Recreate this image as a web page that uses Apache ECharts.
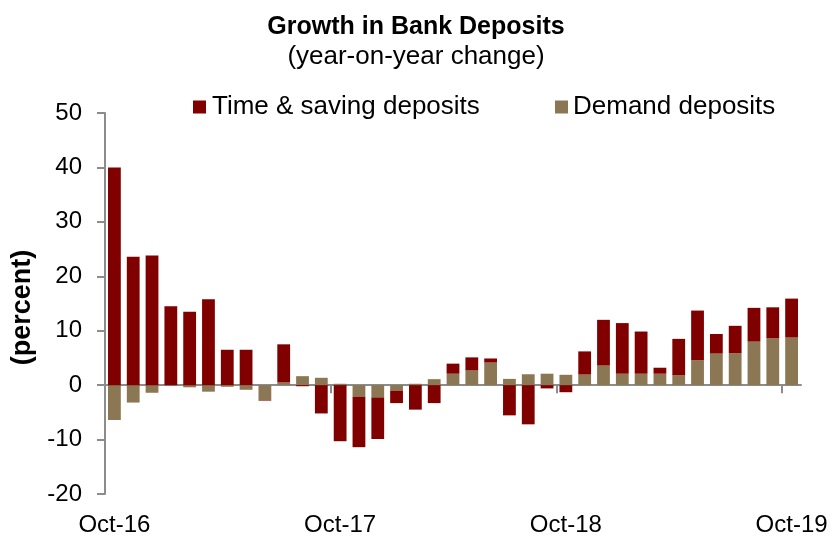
<!DOCTYPE html>
<html>
<head>
<meta charset="utf-8">
<script src="https://cdn.jsdelivr.net/npm/echarts@6/dist/echarts.min.js"></script>
<style>
  html, body { margin: 0; padding: 0; background: #fff; }
  #chart { width: 832px; height: 539px; }
</style>
</head>
<body>
<div id="chart"></div>
<script>
// Monthly observations, Oct-16 through Oct-19
const months = [
  'Oct-16','Nov-16','Dec-16','Jan-17','Feb-17','Mar-17','Apr-17','May-17','Jun-17','Jul-17','Aug-17','Sep-17',
  'Oct-17','Nov-17','Dec-17','Jan-18','Feb-18','Mar-18','Apr-18','May-18','Jun-18','Jul-18','Aug-18','Sep-18',
  'Oct-18','Nov-18','Dec-18','Jan-19','Feb-19','Mar-19','Apr-19','May-19','Jun-19','Jul-19','Aug-19','Sep-19',
  'Oct-19'
];

// Contribution of time & saving deposits (percent)
const timeSaving = [
  40.0, 23.6, 23.8, 14.5, 13.5, 15.8, 6.5, 6.5, -0.1, 7.0, -0.2, -5.2,
  -10.3, -9.3, -7.65, -2.3, -4.5, -3.3, 1.85, 2.4, 0.75, -5.55, -7.2, -0.6,
  -1.3, 4.25, 8.4, 9.3, 7.75, 1.1, 6.7, 9.1, 3.6, 5.05, 6.2, 5.7,
  7.15
];

// Contribution of demand deposits (percent)
const demand = [
  -6.4, -3.2, -1.4, 0.0, -0.4, -1.2, -0.3, -0.85, -2.75, 0.5, 1.65, 1.35,
  0.25, -2.1, -2.25, -1.0, 0.25, 1.1, 2.1, 2.7, 4.15, 1.15, 2.0, 2.1,
  1.9, 1.95, 3.6, 2.1, 2.1, 2.1, 1.8, 4.6, 5.8, 5.85, 8.0, 8.6,
  8.75
];

const yTicks = { min: -20, max: 50, step: 10 };
const monthsPerYear = 12;

const axisGrey = '#8c8c8c';
const font = '"Liberation Sans", Arial, sans-serif';

// Plot area
const W = 832, gridLeft = 105, gridRight = 31, gridTop = 113, gridBottom = 45;
const bandW = (W - gridLeft - gridRight) / months.length;

const chart = echarts.init(document.getElementById('chart'));
chart.setOption({
  animation: false,
  textStyle: { fontFamily: font, color: '#000' },
  title: [
    {
      text: 'Growth in Bank Deposits',
      left: 'center', top: 10,
      textStyle: { fontFamily: font, fontSize: 25, fontWeight: 'bold', color: '#000' }
    },
    {
      text: '(year-on-year change)',
      left: 'center', top: 39,
      textStyle: { fontFamily: font, fontSize: 26, fontWeight: 'normal', color: '#000' }
    }
  ],
  legend: [
    {
      data: ['Time & saving deposits'],
      top: 94, left: 193, padding: 0,
      itemWidth: 13, itemHeight: 13, icon: 'rect',
      textStyle: { fontFamily: font, fontSize: 26, color: '#000', padding: [0, 0, 0, 1] }
    },
    {
      data: ['Demand deposits'],
      top: 94, left: 555, padding: 0,
      itemWidth: 13, itemHeight: 13, icon: 'rect',
      textStyle: { fontFamily: font, fontSize: 26, color: '#000', padding: [0, 0, 0, 0] }
    }
  ],
  grid: [
    { left: gridLeft, right: gridRight, top: gridTop, bottom: gridBottom },
    // year ticks sit on the band boundaries of Oct-16 … Oct-19
    { left: gridLeft, right: gridRight + bandW, top: gridTop, bottom: gridBottom }
  ],
  xAxis: [
    {
      type: 'category',
      gridIndex: 0,
      data: months,
      axisLine: { onZero: true, lineStyle: { color: axisGrey, width: 2 } },
      axisTick: { show: false },
      axisLabel: { show: false }
    },
    {
      type: 'category',
      gridIndex: 0,
      data: months,
      position: 'bottom',
      axisLine: { show: false, onZero: false },
      axisTick: { show: false },
      axisLabel: {
        interval: monthsPerYear - 1, margin: 19,
        fontFamily: font, fontSize: 24, color: '#000'
      }
    },
    {
      type: 'value',
      gridIndex: 1,
      min: 0, max: months.length - 1, interval: monthsPerYear,
      axisLine: { onZero: true, lineStyle: { color: axisGrey, width: 2 } },
      axisTick: { show: true, length: 8, lineStyle: { color: axisGrey, width: 2 } },
      axisLabel: { show: false },
      splitLine: { show: false }
    }
  ],
  yAxis: [
    {
      type: 'value',
      gridIndex: 0,
      min: yTicks.min, max: yTicks.max, interval: yTicks.step,
      name: '(percent)',
      nameLocation: 'middle', nameRotate: 90, nameGap: 67,
      nameTextStyle: { fontFamily: font, fontSize: 27, fontWeight: 'bold', color: '#000', padding: [0, 8, 0, 0] },
      axisLine: { show: true, lineStyle: { color: axisGrey, width: 2 } },
      axisTick: { show: true, length: 8, lineStyle: { color: axisGrey, width: 2 } },
      axisLabel: { fontFamily: font, fontSize: 24, color: '#000', margin: 23 },
      splitLine: { show: false }
    },
    {
      type: 'value',
      gridIndex: 1,
      min: yTicks.min, max: yTicks.max, interval: yTicks.step,
      show: false
    }
  ],
  series: [
    {
      name: 'Demand deposits',
      type: 'bar',
      stack: 'deposits',
      data: demand,
      barCategoryGap: '32%',
      itemStyle: { color: '#8b7753' }
    },
    {
      name: 'Time & saving deposits',
      type: 'bar',
      stack: 'deposits',
      data: timeSaving,
      barCategoryGap: '32%',
      itemStyle: { color: '#800000' }
    }
  ]
});
</script>
</body>
</html>
